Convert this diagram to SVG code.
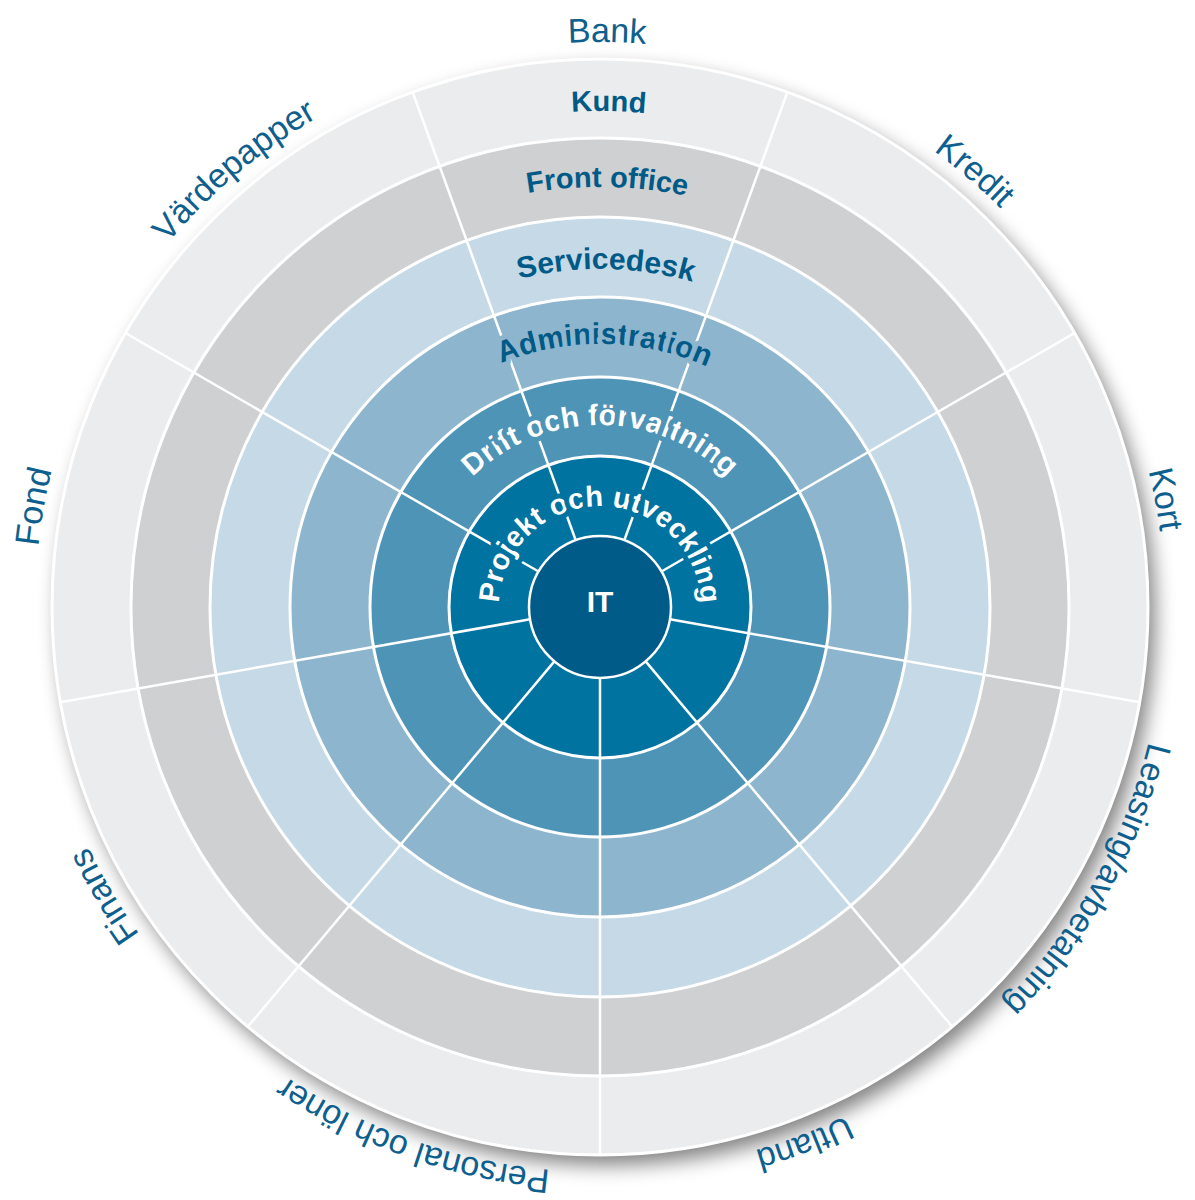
<svg xmlns="http://www.w3.org/2000/svg" xmlns:xlink="http://www.w3.org/1999/xlink" width="1195" height="1200" viewBox="0 0 1195 1200">
<style>
.ring{stroke:none}
.edge{fill:none;stroke:#ffffff;stroke-width:3}
.spoke{stroke:#ffffff;stroke-width:2.5;stroke-linecap:butt}
.outer{font-family:"Liberation Sans",Arial,sans-serif;font-size:34px;fill:#0e5f8e;text-anchor:middle}
.bold{font-family:"Liberation Sans",Arial,sans-serif;font-weight:bold;font-size:29px;text-anchor:middle}
.dark{fill:#005a87}
.white{fill:#ffffff}
.halo{paint-order:stroke;stroke-width:10;stroke-linejoin:round}
.start{text-anchor:start}
</style>
<defs>
<filter id="shadow" x="-10%" y="-10%" width="125%" height="125%">
<feGaussianBlur in="SourceAlpha" stdDeviation="10"/>
<feOffset dx="7" dy="10"/>
<feComponentTransfer><feFuncA type="linear" slope="0.5"/></feComponentTransfer>
</filter>
<path id="pOuter" d="M600,1172 A565,565 0 0 1 600,42 A565,565 0 0 1 600,1172 A565,565 0 0 1 600,42 A565,565 0 0 1 600,1172"/>
<path id="pKund" d="M344.6,1032.2 A496,496 0 1 1 840.5,1040.8"/>
<path id="pFront" d="M383.7,967.0 A420,420 0 1 1 803.6,974.3"/>
<path id="pService" d="M425.9,896.7 A338,338 0 1 1 763.9,902.6"/>
<path id="pAdmin" d="M464.6,832.4 A263,263 0 1 1 727.5,837.0"/>
<path id="pDrift" d="M509,764.6 A182,182 0 1 1 691,764.6"/>
<path id="pProjekt" d="M549.5,694.5 A101,101 0 1 1 650.5,694.5"/>
</defs>

<circle cx="600" cy="607" r="548" fill="#000000" filter="url(#shadow)"/>

<g id="ring-kund"><circle class="ring" cx="600" cy="607" r="548" fill="#ebeced"/></g>
<g id="ring-front-office"><circle class="ring" cx="600" cy="607" r="469" fill="#cfd0d2"/></g>
<g id="ring-servicedesk"><circle class="ring" cx="600" cy="607" r="390" fill="#c5d9e6"/></g>
<g id="ring-administration"><circle class="ring" cx="600" cy="607" r="310" fill="#8db5cd"/></g>
<g id="ring-drift"><circle class="ring" cx="600" cy="607" r="230" fill="#4e94b7"/></g>
<g id="ring-projekt"><circle class="ring" cx="600" cy="607" r="151" fill="#0073a0"/></g>

<g id="connectors">
<line class="spoke" x1="624.28" y1="540.28" x2="787.43" y2="92.05"/>
<line class="spoke" x1="661.49" y1="571.5" x2="1074.58" y2="333.0"/>
<line class="spoke" x1="669.92" y1="619.33" x2="1139.68" y2="702.16"/>
<line class="spoke" x1="645.64" y1="661.39" x2="952.25" y2="1026.79"/>
<line class="spoke" x1="600" y1="678" x2="600" y2="1155"/>
<line class="spoke" x1="554.36" y1="661.39" x2="247.75" y2="1026.79"/>
<line class="spoke" x1="530.08" y1="619.33" x2="60.32" y2="702.16"/>
<line class="spoke" x1="538.51" y1="571.5" x2="125.42" y2="333.0"/>
<line class="spoke" x1="575.72" y1="540.28" x2="412.57" y2="92.05"/>
</g>

<g id="ring-edges">
<circle class="edge" cx="600" cy="607" r="548"/>
<circle class="edge" cx="600" cy="607" r="469"/>
<circle class="edge" cx="600" cy="607" r="390"/>
<circle class="edge" cx="600" cy="607" r="310"/>
<circle class="edge" cx="600" cy="607" r="230"/>
<circle class="edge" cx="600" cy="607" r="151"/>
</g>

<g id="label-kund"><text class="bold dark"><textPath xlink:href="#pKund" href="#pKund" startOffset="50%">Kund</textPath></text></g>
<g id="label-front-office"><text class="bold dark"><textPath xlink:href="#pFront" href="#pFront" startOffset="50%">Front office</textPath></text></g>
<g id="label-servicedesk"><text class="bold dark" style="font-size:30px"><textPath xlink:href="#pService" href="#pService" startOffset="50%">Servicedesk</textPath></text></g>
<g id="label-administration"><text class="bold dark halo" stroke="#8db5cd" style="font-size:30px"><textPath xlink:href="#pAdmin" href="#pAdmin" startOffset="50%">Administration</textPath></text></g>
<g id="label-drift"><text class="bold white halo" stroke="#4e94b7" style="font-size:29.5px"><textPath xlink:href="#pDrift" href="#pDrift" startOffset="50%">Drift och förvaltning</textPath></text></g>
<g id="label-projekt">
<text class="bold white halo start" stroke="#0073a0"><textPath xlink:href="#pProjekt" href="#pProjekt" startOffset="109.7">Projekt</textPath></text>
<text class="bold white halo start" stroke="#0073a0"><textPath xlink:href="#pProjekt" href="#pProjekt" startOffset="216.1">och</textPath></text>
<text class="bold white halo start" stroke="#0073a0"><textPath xlink:href="#pProjekt" href="#pProjekt" startOffset="275.7">utveckling</textPath></text>
</g>

<g id="node-it">
<circle cx="600" cy="607" r="71" fill="#005b88" stroke="#ffffff" stroke-width="2.5"/>
<text x="600" y="612" class="bold white" style="font-size:30px">IT</text>
</g>

<g id="sector-labels">
<g id="label-bank"><text class="outer"><textPath xlink:href="#pOuter" href="#pOuter" startOffset="25.1%">Bank</textPath></text></g>
<g id="label-kredit"><text class="outer"><textPath xlink:href="#pOuter" href="#pOuter" startOffset="30.65%">Kredit</textPath></text></g>
<g id="label-kort"><text class="outer"><textPath xlink:href="#pOuter" href="#pOuter" startOffset="36.0%">Kort</textPath></text></g>
<g id="label-leasing"><text class="outer"><textPath xlink:href="#pOuter" href="#pOuter" startOffset="41.55%">Leasing/avbetalning</textPath></text></g>
<g id="label-utland"><text class="outer"><textPath xlink:href="#pOuter" href="#pOuter" startOffset="47.1%">Utland</textPath></text></g>
<g id="label-personal"><text class="outer"><textPath xlink:href="#pOuter" href="#pOuter" startOffset="52.7%">Personal och löner</textPath></text></g>
<g id="label-finans"><text class="outer"><textPath xlink:href="#pOuter" href="#pOuter" startOffset="58.3%">Finans</textPath></text></g>
<g id="label-fond"><text class="outer"><textPath xlink:href="#pOuter" href="#pOuter" startOffset="63.9%">Fond</textPath></text></g>
<g id="label-vardepapper"><text class="outer"><textPath xlink:href="#pOuter" href="#pOuter" startOffset="69.45%">Värdepapper</textPath></text></g>
</g>
</svg>
